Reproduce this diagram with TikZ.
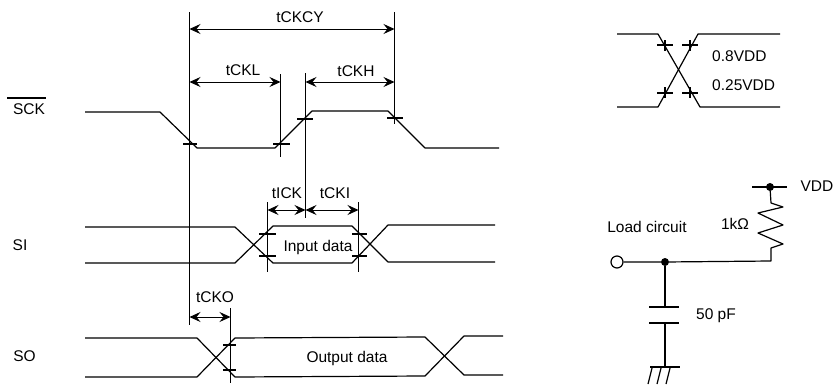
\documentclass[tikz,border=0pt]{standalone}
\usepackage{fontspec}
\setmainfont{Liberation Sans}
\usetikzlibrary{arrows.meta}
\tikzset{
  x=1pt,y=-1pt,
  wave/.style={line width=1.2pt,line join=round},
  guide/.style={line width=1.2pt},
  tickmark/.style={line width=1.2pt},
  dim/.style={line width=1pt,{Stealth[length=11pt,width=10pt,inset=4pt]}-{Stealth[length=11pt,width=10pt,inset=4pt]}},
  lbl/.style={inner sep=0pt,font=\fontsize{15.5}{17}\selectfont,text=black},
  wire/.style={line width=1.2pt},
  junction/.style={circle,fill=black,inner sep=0pt,minimum size=8pt},
}
\begin{document}
\begin{tikzpicture}
\useasboundingbox (0,0) rectangle (833,388);
% signal names
\node[lbl] (nsck) at (29,109) {SCK};
\coordinate (ovl) at (7,98); \coordinate (ovr) at (46,98);
\draw[wire] (ovl) -- (ovr);
\node[lbl] (nsi) at (20,245) {SI};
\node[lbl] (nso) at (24.5,356) {SO};
% guide lines
\coordinate (g1t) at (189.5,12); \coordinate (g1b) at (189.5,325);
\coordinate (g2t) at (394.5,12); \coordinate (g2b) at (394.5,124);
\coordinate (g3t) at (280.5,74); \coordinate (g3b) at (280.5,157);
\coordinate (g4t) at (305.5,73); \coordinate (g4b) at (305.5,218);
\coordinate (g5t) at (267.5,202);  \coordinate (g5b) at (267.5,272);
\coordinate (g6t) at (358.5,202);  \coordinate (g6b) at (358.5,272);
\coordinate (g7t) at (230.5,308);  \coordinate (g7b) at (230.5,383);
\foreach \p in {1,...,7} \draw[guide] (g\p t) -- (g\p b);
% SCK
\draw[wave] (85,112) -- (160,112) -- (197,148) -- (275,148) -- (312,111) -- (388,111) -- (425,148) -- (499,148);
% SI
\draw[wave] (85,227) -- (235,227) -- (273,263) -- (352,263) -- (388,225) -- (495,225);
\draw[wave] (85,263) -- (235,263) -- (273,226) -- (352,226) -- (388,262) -- (495,262);
% SO
\draw[wave] (85,338) -- (197,338) -- (235,377) -- (425,376) -- (464,336) -- (503,336);
\draw[wave] (85,377) -- (197,377) -- (235,338) -- (425,337) -- (464,375) -- (503,375);
% ticks
\foreach \a/\b/\c in {183/197/144, 273/290/144, 297/313/119, 387/403/118,
  259/276/234, 259/276/256, 352/367/234, 352/367/256, 223/236/345, 223/236/370}
  \draw[tickmark] (\a,\c) -- (\b,\c);
% dimension arrows
\draw[dim] (g1t |- 0,29) -- (g2t |- 0,29);
\draw[dim] (g1t |- 0,82) -- (g3t |- 0,82);
\draw[dim] (g4t |- 0,82) -- (g2t |- 0,82);
\draw[dim] (g5t |- 0,210) -- (g4t |- 0,210);
\draw[dim] (g4t |- 0,210) -- (g6t |- 0,210);
\draw[dim] (g1t |- 0,317) -- (g7t |- 0,317);
% timing labels
\node[lbl] (lcy) at (300,17) {tCKCY};
\node[lbl] (ll) at (243,70) {tCKL};
\node[lbl] (lh) at (356,71) {tCKH};
\node[lbl] (lick) at (287,193) {tICK};
\node[lbl] (lcki) at (335,193) {tCKI};
\node[lbl] (lo) at (215,297) {tCKO};
\node[lbl] (lin) at (318,247) {Input data};
\node[lbl] (lout) at (347,358) {Output data};
% levels
\draw[wave] (617,34) -- (658,34) -- (700,107) -- (780,107);
\draw[wave] (617,107) -- (658,107) -- (698,34) -- (780,34);
\foreach \a/\c in {657/45,682/45,657/93,682/93} \draw[tickmark] (\a,\c) -- ++(16,0);
\foreach \a/\c in {665/40,665/87,690/40,690/87} \draw[tickmark] (\a,\c) -- ++(0,11);
\node[lbl,anchor=west] (l08) at (712,56) {0.8VDD};
\node[lbl,anchor=west] (l25) at (712,85) {0.25VDD};
% load circuit
\node[circle,draw,line width=1.2pt,inner sep=0pt,minimum size=12pt] (term) at (617,262) {};
\node[junction] (jn) at (665,262) {};
\node[junction] (jv) at (770,187) {};
\coordinate (corner) at (771,261);
\coordinate (vl) at (752,187); \coordinate (vr) at (787,187);
\draw[wire] (vl) -- (vr);
\draw[wire,line join=round] (jv) -- (771,203) -- (783,207) -- (758,213) -- (783,225) -- (758,233) -- (783,244) -- (771,248) -- (corner) -- (jn) -- (term);
\coordinate (c1) at (665,307); \coordinate (c2) at (665,323); \coordinate (gnd) at (665,367);
\draw[wire] (jn) -- (c1); \draw[wire] (c2) -- (gnd);
\draw[wire] (649,307) -- (679,307);
\draw[wire] (649,323) -- (679,323);
\draw[wire] (650,367) -- (680,367);
\foreach \a in {652,661,670} \draw[wire] (\a,368) -- (\a-4,384);
\node[lbl] (lvdd) at (817,186) {VDD};
\node[lbl] (lload) at (647,227) {Load circuit};
\node[lbl] (lk) at (735,224) {1kΩ};
\node[lbl] (lc) at (716,316) {50 pF};
\end{tikzpicture}
\end{document}
